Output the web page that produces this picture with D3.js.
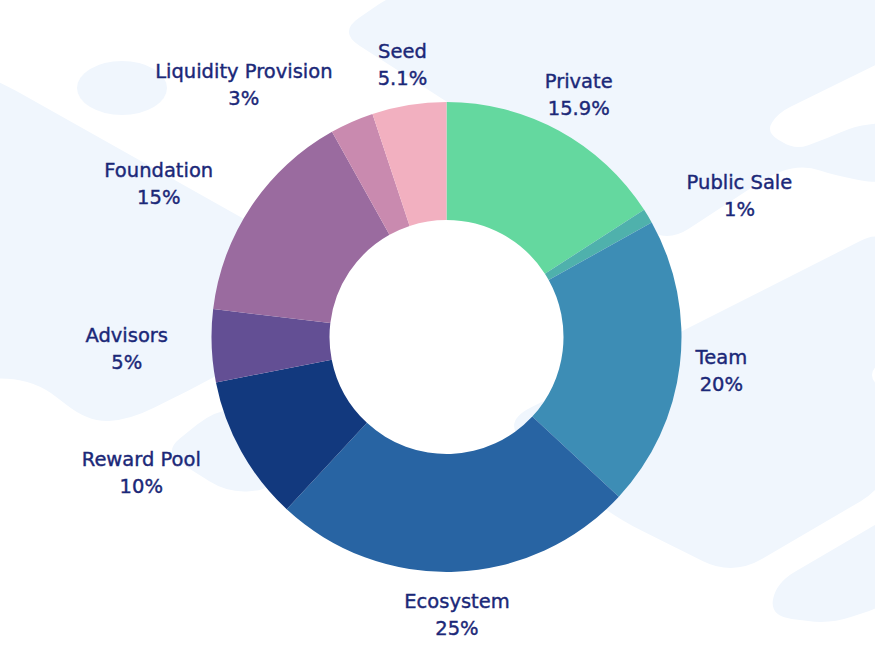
<html>
  <head>
    <script src="https://d3js.org/d3.v7.min.js"></script>
    <style>
      body { margin: 0; background: #ffffff; }
      svg { display: block; }
    </style>
  </head>

  <body>
    <div id="vis"></div>
  </body>

  <script>
    // token allocation, clockwise from 12 o'clock
    var categories = ["Private", "Public Sale", "Team", "Ecosystem", "Reward Pool",
                      "Advisors", "Foundation", "Liquidity Provision", "Seed"]
    var shares = [15.9, 1, 20, 25, 10, 5, 15, 3, 5.1]
    var colors = ["#64d89f", "#4fb1ac", "#3d8db5", "#2864a3", "#12397e",
                  "#634f94", "#9a6b9f", "#c98aaf", "#f2b0c0"]

    // label placement (radius from centre, angle nudge in degrees)
    var labelRadius = [276, 325, 277, 278, 334, 320, 326, 323, 276]
    var labelNudge = [0, 5.3, 0.3, 0, 5.2, 0, -5.8, -15.1, 0]

    var width = 875
    var height = 645
    var cx = 446.5, cy = 337
    var outerR = 235, innerR = 117

    var svg = d3.select("#vis")
      .append("svg")
      .attr("width", width)
      .attr("height", height)

    // background decoration
    function roundedPath(pts, r) {
      var n = pts.length, d = ""
      for (var i = 0; i < n; i++) {
        var p0 = pts[(i - 1 + n) % n], p1 = pts[i], p2 = pts[(i + 1) % n]
        var l0 = Math.hypot(p0[0] - p1[0], p0[1] - p1[1])
        var l2 = Math.hypot(p2[0] - p1[0], p2[1] - p1[1])
        var r0 = Math.min(r, l0 / 2), r2 = Math.min(r, l2 / 2)
        var a = [p1[0] + (p0[0] - p1[0]) / l0 * r0, p1[1] + (p0[1] - p1[1]) / l0 * r0]
        var b = [p1[0] + (p2[0] - p1[0]) / l2 * r2, p1[1] + (p2[1] - p1[1]) / l2 * r2]
        d += (i == 0 ? "M" : "L") + a[0] + "," + a[1]
        d += "Q" + p1[0] + "," + p1[1] + "," + b[0] + "," + b[1]
      }
      return d + "Z"
    }

    var bgFill = "#f0f6fd"
    var bg = svg.append("g")

    // top band
    bg.append("path")
      .attr("d", roundedPath([[400, -10], [890, -10], [890, 186], [833, 175], [807, 166],
                              [777, 171], [667, 243], [338, 32]], 26))
      .attr("fill", bgFill)
    bg.append("path")
      .attr("d", roundedPath([[890, 58], [778, 113], [766, 132], [795, 150], [828, 138],
                              [855, 126], [890, 122]], 14))
      .attr("fill", "#ffffff")

    // right band
    bg.append("path")
      .attr("d", roundedPath([[890, 226], [500, 423], [612, 516], [733, 576], [890, 484]], 34))
      .attr("fill", bgFill)
    bg.append("ellipse")
      .attr("cx", 888).attr("cy", 375).attr("rx", 16).attr("ry", 13)
      .attr("fill", "#ffffff")

    // lower right strip
    bg.append("path")
      .attr("d", roundedPath([[890, 516], [776, 583], [770, 616], [830, 624], [890, 604]], 22))
      .attr("fill", bgFill)

    // left band
    bg.append("path")
      .attr("d", roundedPath([[-30, 70], [4, 84], [292, 246], [300, 325], [215, 377],
                              [130, 420], [88, 422], [35, 380], [-30, 377]], 28))
      .attr("fill", bgFill)

    // small blobs
    bg.append("ellipse")
      .attr("cx", 122).attr("cy", 88).attr("rx", 45).attr("ry", 27)
      .attr("fill", bgFill)
    bg.append("path")
      .attr("d", roundedPath([[163, 452], [214, 411], [272, 404], [276, 489], [228, 493]], 22))
      .attr("fill", bgFill)

    // donut
    var pie = d3.pie().sort(null).value(function(d) { return d })
    var arcs = pie(shares)

    var arc = d3.arc().innerRadius(innerR).outerRadius(outerR)

    var g = svg.append("g")
      .attr("transform", "translate(" + cx + "," + cy + ")")

    g.selectAll("path.slice")
      .data(arcs)
      .enter()
      .append("path")
      .attr("class", "slice")
      .attr("d", arc)
      .attr("fill", function(d, i) { return colors[i] })

    // labels
    var labels = g.selectAll("text.lbl")
      .data(arcs)
      .enter()
      .append("text")
      .attr("class", "lbl")
      .attr("text-anchor", "middle")
      .style("font-family", "'DejaVu Sans', sans-serif")
      .style("font-size", "19.5px")
      .style("fill", "#1b2878")
      .style("stroke", "#1b2878")
      .style("stroke-width", "0.4px")
      .attr("transform", function(d, i) {
        var a = (d.startAngle + d.endAngle) / 2 + labelNudge[i] * Math.PI / 180
        var x = labelRadius[i] * Math.sin(a)
        var y = -labelRadius[i] * Math.cos(a)
        return "translate(" + x + "," + y + ")"
      })

    labels.append("tspan")
      .attr("x", 0)
      .attr("y", -7)
      .text(function(d, i) { return categories[i] })

    labels.append("tspan")
      .attr("x", 0)
      .attr("y", 20)
      .text(function(d, i) { return shares[i] + "%" })
  </script>
</html>
